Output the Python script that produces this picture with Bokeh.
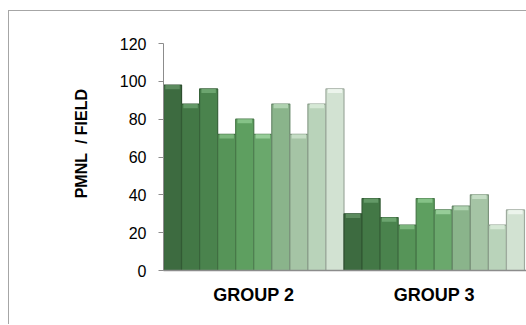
from bokeh.plotting import figure
from bokeh.models import Range1d, FixedTicker, ColumnDataSource
from bokeh.embed import file_html
from bokeh.resources import INLINE

groups = ["GROUP 2", "GROUP 3"]
series = ["S1", "S2", "S3", "S4", "S5", "S6", "S7", "S8", "S9", "S10"]
group2_values = [98, 88, 96, 72, 80, 72, 88, 72, 88, 96]
group3_values = [30, 38, 28, 24, 38, 32, 34, 40, 24, 32]
y_ticks = [0, 20, 40, 60, 80, 100, 120]
colors = ["#3d6b40", "#437846", "#4a834d", "#569458", "#5e9f60",
          "#6aa86c", "#8ab48b", "#a5c4a5", "#b9d3ba", "#d2e2d2"]
edge_colors = ["#2e4f30", "#325a34", "#38633a", "#416f42", "#477848",
               "#4f7f51", "#678769", "#7c937c", "#8b9e8b", "#9eaa9e"]
top_colors = ["#5f8f62", "#679c6a", "#70a873", "#7fb981", "#8ac58c",
              "#9bd09d", "#b4d6b5", "#c9e0c9", "#d8ead8", "#eef6ee"]

n = len(series)
w = 1.0 / n
xs, tops, fills, lines, hi = [], [], [], [], []
for gi, vals in enumerate([group2_values, group3_values]):
    for si, v in enumerate(vals):
        xs.append(gi + (si + 0.5) * w)
        tops.append(v)
        fills.append(colors[si])
        lines.append(edge_colors[si])
        hi.append(top_colors[si])
src = ColumnDataSource(dict(x=xs, top=tops, fill=fills, line=lines, hi=hi,
                            hb=[t - 2.2 for t in tops]))

p = figure(width=518, height=314, output_backend="svg", toolbar_location=None,
           x_range=Range1d(0, 363 / 180), y_range=Range1d(0, 120),
           min_border_left=154, min_border_right=0, min_border_top=32,
           min_border_bottom=55)
p.margin = (10, 0, 0, 8)
p.styles = {"border-left": "1px solid #a6a6a6", "border-top": "1px solid #a6a6a6"}
p.outline_line_color = None
p.xgrid.visible = False
p.ygrid.visible = False

p.vbar(x="x", top="top", bottom=0, width=w, source=src, fill_color="fill",
       line_color="line", line_width=1.2)
p.vbar(x="x", top="top", bottom="hb", width=w * 0.8, source=src,
       fill_color="hi", line_color=None, fill_alpha=0.9)

font = "Liberation Sans"
p.yaxis.ticker = FixedTicker(ticks=y_ticks)
p.yaxis.axis_line_color = "#8c8c8c"
p.yaxis.major_tick_line_color = "#8c8c8c"
p.yaxis.major_tick_out = 5
p.yaxis.major_tick_in = 0
p.yaxis.minor_tick_line_color = None
p.yaxis.major_label_text_font = font
p.yaxis.major_label_text_font_size = "16px"
p.yaxis.major_label_text_color = "#000000"
p.yaxis.major_label_standoff = 12
p.yaxis.axis_label = "\u00a0" * 6 + "PMNL\u00a0 / FIELD"
p.yaxis.axis_label_text_font = font
p.yaxis.axis_label_text_font_style = "bold"
p.yaxis.axis_label_text_font_size = "16px"
p.yaxis.axis_label_text_color = "#000000"
p.yaxis.axis_label_standoff = 27

p.xaxis.ticker = FixedTicker(ticks=[0.5, 1.5])
p.xaxis.major_label_overrides = {0.5: groups[0], 1.5: groups[1]}
p.xaxis.axis_line_color = "#8c8c8c"
p.xaxis.axis_line_width = 1.5
p.xaxis.major_tick_line_color = None
p.xaxis.minor_tick_line_color = None
p.xaxis.major_label_text_font = font
p.xaxis.major_label_text_font_style = "bold"
p.xaxis.major_label_text_font_size = "18px"
p.xaxis.major_label_text_color = "#000000"
p.xaxis.major_label_standoff = 8

open("out.html", "w").write(file_html(p, INLINE))
